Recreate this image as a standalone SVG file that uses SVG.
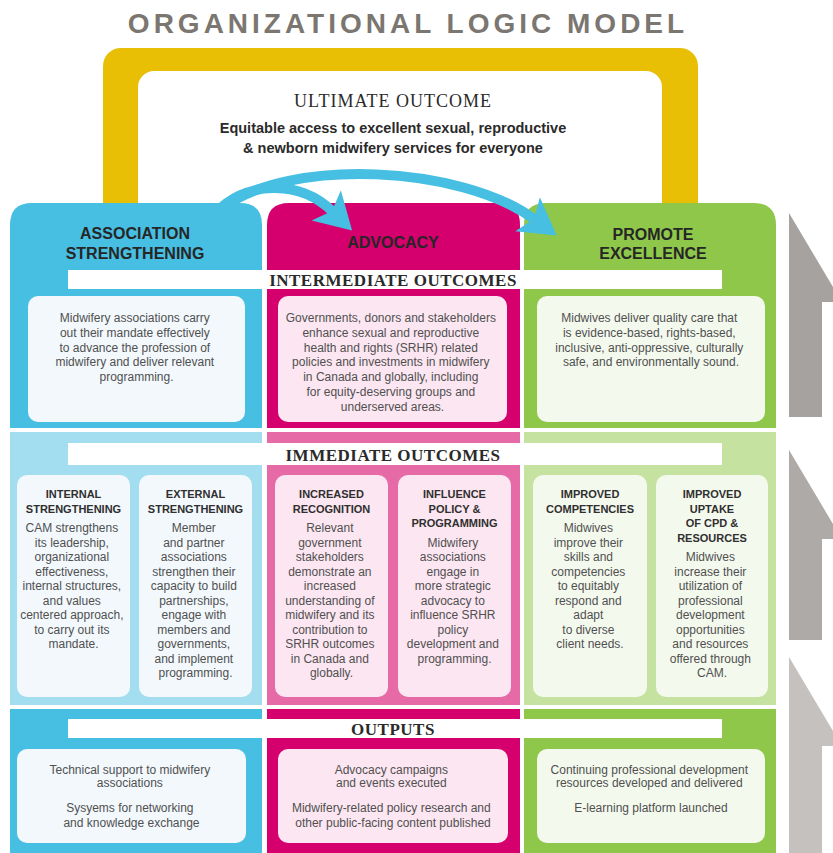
<svg xmlns="http://www.w3.org/2000/svg" width="833" height="853" viewBox="0 0 833 853">
<defs>
<style>
.title{font-family:"Liberation Sans",Arial,sans-serif;font-weight:bold;font-size:28px;letter-spacing:4px;fill:#7b7670}
.serif{font-family:"Liberation Serif","Times New Roman",serif;font-weight:bold;fill:#2a2a2a}
.serif-reg{font-family:"Liberation Serif","Times New Roman",serif;font-weight:normal;fill:#2a2a2a}
.ult{font-family:"Liberation Sans",Arial,sans-serif;font-weight:bold;font-size:14.5px;fill:#2a2a2a}
.hdr{font-family:"Liberation Sans",Arial,sans-serif;font-weight:bold;font-size:16px;fill:#262626}
.body{font-family:"Liberation Sans",Arial,sans-serif;font-size:12px;fill:#505050}
.sub{font-family:"Liberation Sans",Arial,sans-serif;font-weight:bold;font-size:11px;fill:#2f2f2f}
.bar{fill:#ffffff}
.bb{fill:#f2f8fc}
.pb{fill:#fce6f1}
.gb{fill:#f4f9ee}
.arc{fill:none;stroke:#47bfe3;stroke-width:10;stroke-linecap:round}
.up{stroke:none}
</style>
<marker id="ah" viewBox="0 0 36 44" refX="8" refY="22" markerWidth="36" markerHeight="44" markerUnits="userSpaceOnUse" orient="auto">
<path d="M0,1 L36,22 L0,43 L8,22 Z" fill="#47bfe3"/>
</marker>
</defs>
<rect width="833" height="853" fill="#ffffff"/>

<text class="title" x="408" y="33" text-anchor="middle">ORGANIZATIONAL LOGIC MODEL</text>

<g id="ultimate">
<rect x="103" y="48" width="595" height="220" rx="18" fill="#e8bf05"/>
<rect x="138" y="71" width="524" height="200" rx="16" fill="#ffffff"/>
<text class="serif-reg" x="393" y="107" text-anchor="middle" font-size="18" letter-spacing="1">ULTIMATE OUTCOME</text>
<text class="ult" x="393" y="133" text-anchor="middle">Equitable access to excellent sexual, reproductive</text>
<text class="ult" x="393" y="153" text-anchor="middle">&amp; newborn midwifery services for everyone</text>
</g>

<g id="col-association">
<path d="M10,428 V225 Q10,203 32,203 H240 Q262,203 262,225 V428 Z" fill="#47bfe3"/>
<rect x="10" y="432" width="252" height="273" fill="#a3def0"/>
<rect x="10" y="709" width="252" height="144" fill="#47bfe3"/>
<text class="hdr" x="135" y="239" text-anchor="middle">ASSOCIATION</text>
<text class="hdr" x="135" y="259" text-anchor="middle">STRENGTHENING</text>
</g>
<g id="col-advocacy">
<path d="M267,428 V225 Q267,203 289,203 H498 Q520,203 520,225 V428 Z" fill="#d5006e"/>
<rect x="267" y="432" width="253" height="273" fill="#e66aa6"/>
<rect x="267" y="709" width="253" height="144" fill="#d5006e"/>
<text class="hdr" x="393" y="248" text-anchor="middle">ADVOCACY</text>
</g>
<g id="col-excellence">
<path d="M524,428 V225 Q524,203 546,203 H754 Q776,203 776,225 V428 Z" fill="#8fc74a"/>
<rect x="524" y="432" width="252" height="273" fill="#c5e2a0"/>
<rect x="524" y="709" width="252" height="144" fill="#8fc74a"/>
<text class="hdr" x="653" y="240" text-anchor="middle">PROMOTE</text>
<text class="hdr" x="653" y="259" text-anchor="middle">EXCELLENCE</text>
</g>

<g id="label-intermediate">
<rect class="bar" x="68" y="270" width="654" height="19"/>
<text class="serif" x="393" y="286" text-anchor="middle" font-size="17" letter-spacing="0.5">INTERMEDIATE OUTCOMES</text>
</g>
<g id="label-immediate">
<rect class="bar" x="68" y="443" width="654" height="22"/>
<text class="serif" x="393" y="461" text-anchor="middle" font-size="17" letter-spacing="0.5">IMMEDIATE OUTCOMES</text>
</g>
<g id="label-outputs">
<rect class="bar" x="68" y="719" width="654" height="19"/>
<text class="serif" x="393" y="735" text-anchor="middle" font-size="17" letter-spacing="0.5">OUTPUTS</text>
</g>

<g id="int-association">
<rect class="bb" x="28" y="296" width="217" height="126" rx="10"/>
<text class="body" text-anchor="middle">
<tspan x="136.5" y="322">Midwifery associations carry</tspan>
<tspan x="136.5" y="337">out their mandate effectively</tspan>
<tspan x="136.5" y="352">to advance the profession of</tspan>
<tspan x="136.5" y="366">midwifery and deliver relevant</tspan>
<tspan x="136.5" y="381">programming.</tspan>
</text>
</g>
<g id="int-advocacy">
<rect class="pb" x="278" y="296" width="229" height="126" rx="10"/>
<text class="body" text-anchor="middle">
<tspan x="392.5" y="322">Governments, donors and stakeholders</tspan>
<tspan x="392.5" y="337">enhance sexual and reproductive</tspan>
<tspan x="392.5" y="352">health and rights (SRHR) related</tspan>
<tspan x="392.5" y="366">policies and investments in midwifery</tspan>
<tspan x="392.5" y="381">in Canada and globally, including</tspan>
<tspan x="392.5" y="396">for equity-deserving groups and</tspan>
<tspan x="392.5" y="411">underserved areas.</tspan>
</text>
</g>
<g id="int-excellence">
<rect class="gb" x="537" y="296" width="228" height="126" rx="10"/>
<text class="body" text-anchor="middle">
<tspan x="651" y="322">Midwives deliver quality care that</tspan>
<tspan x="651" y="337">is evidence-based, rights-based,</tspan>
<tspan x="651" y="352">inclusive, anti-oppressive, culturally</tspan>
<tspan x="651" y="366">safe, and environmentally sound.</tspan>
</text>
</g>

<g id="imm-internal">
<rect class="bb" x="17" y="475" width="113" height="222" rx="10"/>
<text class="sub" text-anchor="middle"><tspan x="73.5" y="498">INTERNAL</tspan><tspan x="73.5" y="513">STRENGTHENING</tspan></text>
<text class="body" text-anchor="middle">
<tspan x="73.5" y="532">CAM strengthens</tspan>
<tspan x="73.5" y="546.5">its leadership,</tspan>
<tspan x="73.5" y="561">organizational</tspan>
<tspan x="73.5" y="575.5">effectiveness,</tspan>
<tspan x="73.5" y="590">internal structures,</tspan>
<tspan x="73.5" y="604.5">and values</tspan>
<tspan x="73.5" y="619">centered approach,</tspan>
<tspan x="73.5" y="633.5">to carry out its</tspan>
<tspan x="73.5" y="648">mandate.</tspan>
</text>
</g>
<g id="imm-external">
<rect class="bb" x="139" y="475" width="113" height="222" rx="10"/>
<text class="sub" text-anchor="middle"><tspan x="195.5" y="498">EXTERNAL</tspan><tspan x="195.5" y="513">STRENGTHENING</tspan></text>
<text class="body" text-anchor="middle">
<tspan x="195.5" y="532">Member</tspan>
<tspan x="195.5" y="546.5">and partner</tspan>
<tspan x="195.5" y="561">associations</tspan>
<tspan x="195.5" y="575.5">strengthen their</tspan>
<tspan x="195.5" y="590">capacity to build</tspan>
<tspan x="195.5" y="604.5">partnerships,</tspan>
<tspan x="195.5" y="619">engage with</tspan>
<tspan x="195.5" y="633.5">members and</tspan>
<tspan x="195.5" y="648">governments,</tspan>
<tspan x="195.5" y="662.5">and implement</tspan>
<tspan x="195.5" y="677">programming.</tspan>
</text>
</g>
<g id="imm-recognition">
<rect class="pb" x="275" y="475" width="113" height="222" rx="10"/>
<text class="sub" text-anchor="middle"><tspan x="331.5" y="498">INCREASED</tspan><tspan x="331.5" y="513">RECOGNITION</tspan></text>
<text class="body" text-anchor="middle">
<tspan x="331.5" y="532">Relevant</tspan>
<tspan x="331.5" y="546.5">government</tspan>
<tspan x="331.5" y="561">stakeholders</tspan>
<tspan x="331.5" y="575.5">demonstrate an</tspan>
<tspan x="331.5" y="590">increased</tspan>
<tspan x="331.5" y="604.5">understanding of</tspan>
<tspan x="331.5" y="619">midwifery and its</tspan>
<tspan x="331.5" y="633.5">contribution to</tspan>
<tspan x="331.5" y="648">SRHR outcomes</tspan>
<tspan x="331.5" y="662.5">in Canada and</tspan>
<tspan x="331.5" y="677">globally.</tspan>
</text>
</g>
<g id="imm-influence">
<rect class="pb" x="398" y="475" width="113" height="222" rx="10"/>
<text class="sub" text-anchor="middle"><tspan x="454.5" y="498">INFLUENCE</tspan><tspan x="454.5" y="513">POLICY &amp;</tspan><tspan x="454.5" y="527">PROGRAMMING</tspan></text>
<text class="body" text-anchor="middle">
<tspan x="454.5" y="546.5">Midwifery</tspan>
<tspan x="454.5" y="561">associations</tspan>
<tspan x="454.5" y="575.5">engage in</tspan>
<tspan x="454.5" y="590">more strategic</tspan>
<tspan x="454.5" y="604.5">advocacy to</tspan>
<tspan x="454.5" y="619">influence SRHR</tspan>
<tspan x="454.5" y="633.5">policy</tspan>
<tspan x="454.5" y="648">development and</tspan>
<tspan x="454.5" y="662.5">programming.</tspan>
</text>
</g>
<g id="imm-competencies">
<rect class="gb" x="533" y="475" width="114" height="222" rx="10"/>
<text class="sub" text-anchor="middle"><tspan x="590" y="498">IMPROVED</tspan><tspan x="590" y="513">COMPETENCIES</tspan></text>
<text class="body" text-anchor="middle">
<tspan x="590" y="532">Midwives</tspan>
<tspan x="590" y="546.5">improve their</tspan>
<tspan x="590" y="561">skills and</tspan>
<tspan x="590" y="575.5">competencies</tspan>
<tspan x="590" y="590">to equitably</tspan>
<tspan x="590" y="604.5">respond and</tspan>
<tspan x="590" y="619">adapt</tspan>
<tspan x="590" y="633.5">to diverse</tspan>
<tspan x="590" y="648">client needs.</tspan>
</text>
</g>
<g id="imm-uptake">
<rect class="gb" x="656" y="475" width="112" height="222" rx="10"/>
<text class="sub" text-anchor="middle"><tspan x="712" y="498">IMPROVED</tspan><tspan x="712" y="513">UPTAKE</tspan><tspan x="712" y="527">OF CPD &amp;</tspan><tspan x="712" y="542">RESOURCES</tspan></text>
<text class="body" text-anchor="middle">
<tspan x="712" y="561">Midwives</tspan>
<tspan x="712" y="575.5">increase their</tspan>
<tspan x="712" y="590">utilization of</tspan>
<tspan x="712" y="604.5">professional</tspan>
<tspan x="712" y="619">development</tspan>
<tspan x="712" y="633.5">opportunities</tspan>
<tspan x="712" y="648">and resources</tspan>
<tspan x="712" y="662.5">offered through</tspan>
<tspan x="712" y="677">CAM.</tspan>
</text>
</g>

<g id="out-association">
<rect class="bb" x="17" y="749" width="229" height="94" rx="10"/>
<text class="body" text-anchor="middle">
<tspan x="131.5" y="774">Technical support to midwifery</tspan>
<tspan x="131.5" y="787">associations</tspan>
<tspan x="131.5" y="812">Sysyems for networking</tspan>
<tspan x="131.5" y="827">and knowledge exchange</tspan>
</text>
</g>
<g id="out-advocacy">
<rect class="pb" x="278" y="749" width="230" height="94" rx="10"/>
<text class="body" text-anchor="middle">
<tspan x="393" y="774">Advocacy campaigns</tspan>
<tspan x="393" y="787">and events executed</tspan>
<tspan x="393" y="812">Midwifery-related policy research and</tspan>
<tspan x="393" y="827">other public-facing content published</tspan>
</text>
</g>
<g id="out-excellence">
<rect class="gb" x="537" y="749" width="228" height="94" rx="10"/>
<text class="body" text-anchor="middle">
<tspan x="651" y="774">Continuing professional development</tspan>
<tspan x="651" y="787">resources developed and delivered</tspan>
<tspan x="651" y="812">E-learning platform launched</tspan>
</text>
</g>

<g id="connectors">
<path class="arc" d="M222,207 C250,182 300,180 332,211" marker-end="url(#ah)"/>
<path class="arc" d="M224,207 C290,158 460,165 534,219" marker-end="url(#ah)"/>
</g>

<g id="progress-arrows">
<polygon class="up" points="789,213 833,287 833,302 822,302 822,417 789,417" fill="#a6a2a0"/>
<polygon class="up" points="789,450 833,524 833,539 822,539 822,640 789,640" fill="#aeaaa8"/>
<polygon class="up" points="789,657 833,731 833,746 822,746 822,853 789,853" fill="#c5c1bf"/>
</g>
</svg>
